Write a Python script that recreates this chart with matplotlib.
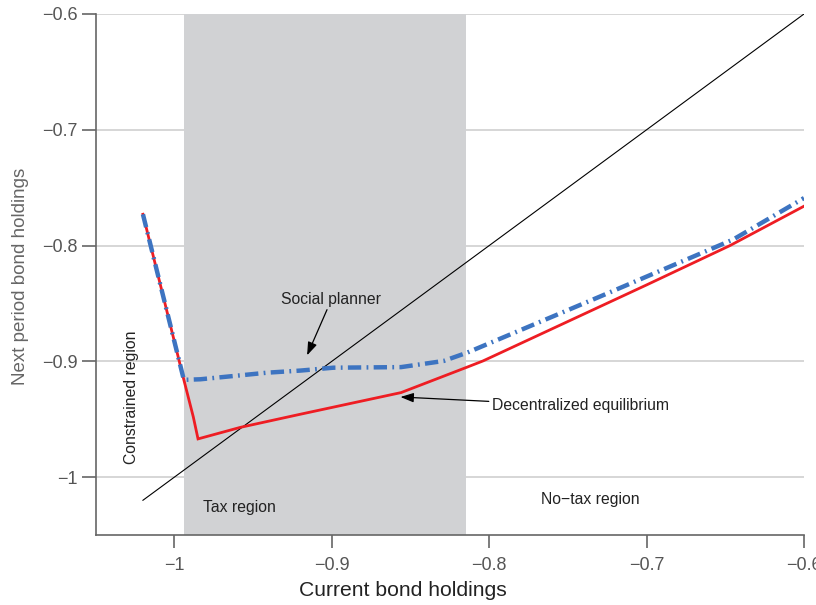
import numpy as np
import matplotlib
matplotlib.use('agg')
import matplotlib.pyplot as plt

plt.rcParams['font.family'] = ['Liberation Sans', 'DejaVu Sans']

# policy functions
x_dec = [-1.02, -0.994, -0.988, -0.985, -0.958, -0.92, -0.856, -0.814, -0.804, -0.70, -0.647, -0.60]
y_dec = [-0.773, -0.916, -0.948, -0.967, -0.957, -0.9457, -0.927, -0.905, -0.8997, -0.834, -0.800, -0.766]

x_sp = [-1.02, -0.994, -0.9835, -0.941, -0.92, -0.899, -0.856, -0.829, -0.814, -0.729, -0.645, -0.60]
y_sp = [-0.773, -0.916, -0.9155, -0.9098, -0.908, -0.9055, -0.905, -0.8997, -0.8925, -0.8437, -0.7948, -0.759]

x_45 = [-1.02, -0.60]

tax_lo, tax_hi = -0.9936, -0.8145

xticks = [-1, -0.9, -0.8, -0.7, -0.6]
yticks = [-1, -0.9, -0.8, -0.7, -0.6]
xtick_labels = ['\u22121', '\u22120.9', '\u22120.8', '\u22120.7', '\u22120.6']
ytick_labels = ['\u22121', '\u22120.9', '\u22120.8', '\u22120.7', '\u22120.6']

fig = plt.figure(figsize=(8.16, 6.05), dpi=100)
ax = fig.add_axes([0.1173, 0.1157, 0.868, 0.8612])

ax.set_xlim(-1.05, -0.6)
ax.set_ylim(-1.05, -0.6)

# grid first, shaded tax region on top of it
for yt in yticks:
    ax.axhline(yt, color='#d0d0d0', lw=1.2, zorder=0)
ax.axvspan(tax_lo, tax_hi, color='#d1d2d4', lw=0, zorder=1)

ax.plot(x_45, x_45, color='black', lw=0.8, zorder=3)
ax.plot(x_dec, y_dec, color='#ee1d23', lw=2.0, zorder=4, solid_joinstyle='miter')
ax.plot(x_sp, y_sp, color='#3d74c1', lw=3.2, zorder=5,
        linestyle=(0, (3.0, 1.2, 0.4, 1.2)))

# annotations
fs = 11.3
ax.annotate('Social planner', xy=(-0.9157, -0.8948), xytext=(-0.9002, -0.8530),
            ha='center', va='bottom', fontsize=fs, color='#222222',
            arrowprops=dict(arrowstyle='-|>,head_length=0.7,head_width=0.25',
                            color='black', lw=0.9, shrinkA=0, shrinkB=0))
ax.annotate('Decentralized equilibrium', xy=(-0.8564, -0.9308), xytext=(-0.7985, -0.9385),
            ha='left', va='center', fontsize=fs, color='#222222',
            arrowprops=dict(arrowstyle='-|>,head_length=0.7,head_width=0.25',
                            color='black', lw=0.9, shrinkA=0, shrinkB=0))

ax.text(-1.027, -0.9313, 'Constrained region', rotation=90, ha='center', va='center',
        fontsize=fs, color='#222222')
ax.text(-0.959, -1.0261, 'Tax region', ha='center', va='center', fontsize=fs, color='#222222')
ax.text(-0.7357, -1.0196, 'No\u2212tax region', ha='center', va='center', fontsize=fs,
        color='#222222')

ax.set_xticks(xticks)
ax.set_xticklabels(xtick_labels)
ax.set_yticks(yticks)
ax.set_yticklabels(ytick_labels)

for side in ['top', 'right']:
    ax.spines[side].set_visible(False)
for side in ['left', 'bottom']:
    ax.spines[side].set_color('#666666')
    ax.spines[side].set_linewidth(1.2)

ax.tick_params(axis='both', colors='#666666', labelcolor='#555555', width=1.2,
               labelsize=13, direction='out')
ax.tick_params(axis='x', length=9.5, pad=6)
ax.tick_params(axis='y', length=10, pad=3)

ax.set_xlabel('Current bond holdings', fontsize=15.2, color='#222222')
ax.xaxis.set_label_coords(0.434, -0.089)
ax.set_ylabel('Next period bond holdings', fontsize=13.5, color='#666666')
ax.yaxis.set_label_coords(-0.094, 0.497)

fig.savefig('out.png', dpi=100)
